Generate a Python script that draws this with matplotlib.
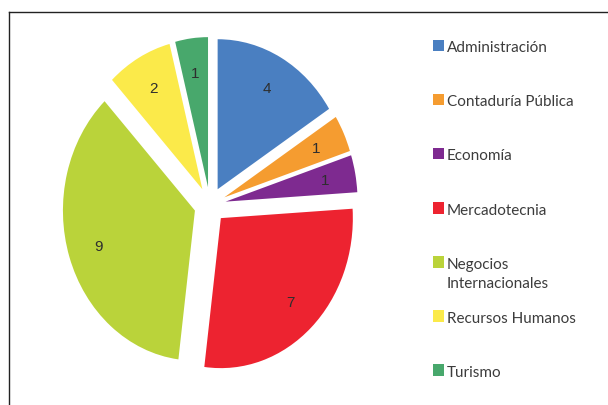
import matplotlib
matplotlib.use("Agg")
import matplotlib.pyplot as plt
from matplotlib.lines import Line2D
from matplotlib.patches import Rectangle

categories = ["Administración", "Contaduría Pública", "Economía", "Mercadotecnia",
              "Negocios\nInternacionales", "Recursos Humanos", "Turismo"]
values = [4, 1, 1, 7, 9, 2, 1]
colors = ["#4A7FC1", "#F59C30", "#7E2A90", "#ED2330", "#BAD33A", "#FBEA4A", "#48A86C"]

W, H = 608, 406
fig = plt.figure(figsize=(W / 100, H / 100), dpi=100)

# pie axes: 1 data unit = rx px horizontally, ry px vertically
cx, cy = 210, 206
rx, ry = 132, 150
lim = 1.2
ax = fig.add_axes([(cx - lim * rx) / W, (H - cy - lim * ry) / H,
                   2 * lim * rx / W, 2 * lim * ry / H])
total = sum(values)
wedges, texts, autotexts = ax.pie(
    values, colors=colors, startangle=90, counterclock=False,
    explode=[0.12] * len(values),
    autopct=lambda p: f"{round(p * total / 100):d}", pctdistance=0.77,
    textprops=dict(color="#2e2e2e", fontsize=11, family="Liberation Sans"),
    wedgeprops=dict(linewidth=0))
ax.set_aspect("auto")
ax.set_xlim(-lim, lim)
ax.set_ylim(-lim, lim)
ax.axis("off")

# frame (top and left edges visible)
fx, fy = 8.5, 13.3
fig.add_artist(Line2D([fx / W, 1.0], [1 - fy / H, 1 - fy / H], color="#222222", lw=1.0))
fig.add_artist(Line2D([fx / W, fx / W], [1 - fy / H, 0.0], color="#222222", lw=1.0))

# legend: equally spaced slots, multi-line labels flow downward
base0, pitch, line_px = 52.3, 54.07, 19.5
for i, (lab, w) in enumerate(zip(categories, wedges)):
    b = base0 + i * pitch
    fig.add_artist(Rectangle((433 / W, 1 - b / H), 11 / W, 11.5 / H,
                             facecolor=w.get_facecolor(), edgecolor="none"))
    for k, line in enumerate(lab.split("\n")):
        fig.text(447 / W, 1 - (b + k * line_px) / H, line, fontsize=11, family="Lato",
                 color="#3c3c3c", va="baseline", ha="left")

fig.savefig("out.png", dpi=100)
